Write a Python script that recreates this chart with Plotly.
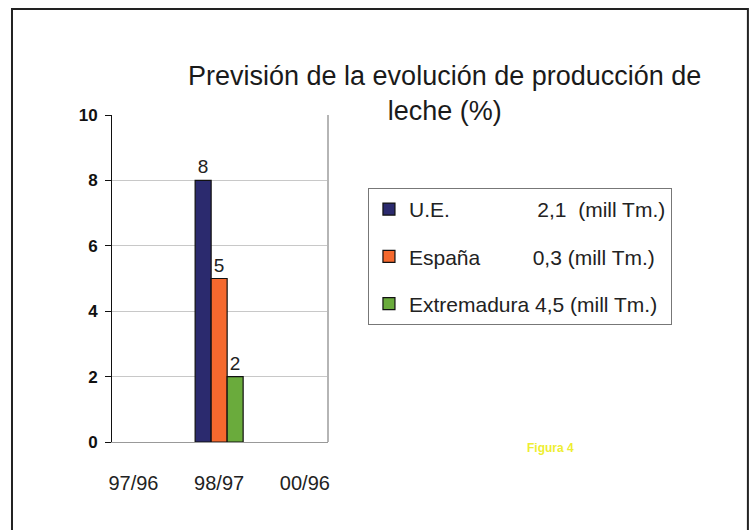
import plotly.graph_objects as go

categories = ["97/96", "98/97", "00/96"]
series_names = ["U.E.", "España", "Extremadura"]
series_tonnage = ["2,1\u00a0\u00a0(mill Tm.)", "0,3 (mill Tm.)", "4,5 (mill Tm.)"]
ue_values = [None, 8, None]
espana_values = [None, 5, None]
extremadura_values = [None, 2, None]
y_ticks = [0, 2, 4, 6, 8, 10]

colors = ["#2b2a6e", "#f5692e", "#6aab3c"]
pads = [15, 9, 1]

fig = go.Figure()
for name, vals, col, ton, pad in zip(series_names,
                                     [ue_values, espana_values, extremadura_values],
                                     colors, series_tonnage, pads):
    fig.add_trace(go.Bar(
        x=categories, y=vals, name=name + "\u00a0" * pad + ton,
        legendgroup=name,
        marker=dict(color=col, line=dict(color="#111111", width=1.2)),
        text=[("" if v is None else str(v)) for v in vals],
        textposition="outside", cliponaxis=False,
        textfont=dict(family="Liberation Sans, Arial", size=19, color="#222"),
    ))

fig.update_layout(
    width=754, height=530,
    margin=dict(l=112, r=426, t=115, b=88),
    paper_bgcolor="white", plot_bgcolor="white",
    barmode="group", bargap=0.44, bargroupgap=0,
    font=dict(family="Liberation Sans, Arial", color="#222"),
    showlegend=True,
    legend=dict(
        x=1.185, y=0.777, xanchor="left", yanchor="top",
        bordercolor="#777777", borderwidth=1, bgcolor="white",
        font=dict(size=21, color="#222"),
        tracegroupgap=17, traceorder="grouped",
        itemwidth=30,
    ),
    xaxis=dict(
        range=[-0.25, 2.27], showline=True, linecolor="#999999",
        ticks="", showgrid=False, tickfont=dict(size=20, color="#222"),
        ticklabelstandoff=23, fixedrange=True,
    ),
    yaxis=dict(
        range=[0, 10], tickvals=y_ticks, showline=True, linecolor="#111111",
        ticks="outside", ticklen=6, tickcolor="#111111",
        showgrid=True, gridcolor="#c8c8c8", gridwidth=1,
        tickfont=dict(size=17, color="#111", weight="bold"),
        ticklabelstandoff=4, zeroline=False,
    ),
    annotations=[
        dict(text="Previsión de la evolución de producción de<br>leche (%)",
             xref="paper", yref="paper", x=1.54, y=1.065,
             xanchor="center", yanchor="middle", showarrow=False,
             font=dict(size=27, color="#1a1a1a")),
        dict(text="Figura 4", xref="paper", yref="paper", x=2.03, y=-0.018,
             xanchor="center", yanchor="middle", showarrow=False,
             font=dict(size=12, color="#eeee30", weight="bold")),
    ],
    shapes=[
        dict(type="rect", xref="paper", yref="paper", x0=-0.463, x1=2.944,
             y0=-0.4, y1=1.324, line=dict(color="#222222", width=2)),
        dict(type="line", xref="paper", yref="paper", x0=1, x1=1, y0=0, y1=1,
             line=dict(color="#b5b5b5", width=2)),
    ],
)

fig.write_html("out.html", config={"displayModeBar": False},
               post_script="document.body.style.margin='0';")
